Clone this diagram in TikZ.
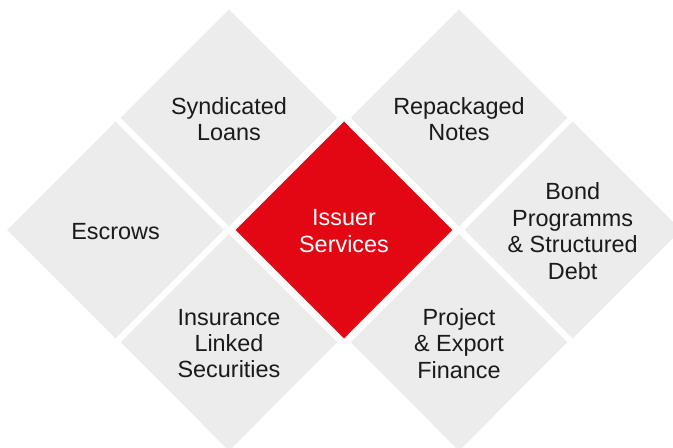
\documentclass[tikz,border=0pt]{standalone}
\usepackage{fontspec}
\setmainfont{Liberation Sans}
\usetikzlibrary{shapes.geometric}
\definecolor{tilegrey}{RGB}{236,236,236}
\definecolor{tilered}{RGB}{227,6,19}
\definecolor{tiletext}{RGB}{26,26,26}
\begin{document}
\begin{tikzpicture}[x=1bp,y=-1bp,
  tile/.style={diamond, aspect=1, minimum width=216.6bp, minimum height=217bp,
    inner sep=0pt, outer sep=0pt, fill=tilegrey},
  redtile/.style={tile, fill=tilered},
  tiletxt/.style={align=center, inner sep=0pt, text=tiletext, yshift=-1.2bp,
    font=\fontsize{23.5}{26.5}\selectfont},
  redtxt/.style={tiletxt, text=white}]
\useasboundingbox (0,0) rectangle (673,448);
\clip (0,0) rectangle (673,448);
\node[redtile] (issuer) at (344,230) {};
\node[tile] (synd) at (229,117.8) {};
\node[tile] (repack) at (459,117.8) {};
\node[tile] (escrows) at (115.5,230) {};
\node[tile] (bond) at (572.7,230) {};
\node[tile] (insurance) at (229,342.3) {};
\node[tile] (project) at (459,342.3) {};
\node[redtxt] (issuerT) at (issuer.center) {Issuer\\Services};
\node[tiletxt] (syndT) at (synd.center) {Syndicated\\Loans};
\node[tiletxt] (repackT) at (repack.center) {Repackaged\\Notes};
\node[tiletxt] (escrowsT) at (escrows.center) {Escrows};
\node[tiletxt] (bondT) at (bond.center) {Bond\\Programms\\\& Structured\\Debt};
\node[tiletxt] (insuranceT) at (insurance.center) {Insurance\\Linked\\Securities};
\node[tiletxt] (projectT) at (project.center) {Project\\\& Export\\Finance};
\end{tikzpicture}
\end{document}
